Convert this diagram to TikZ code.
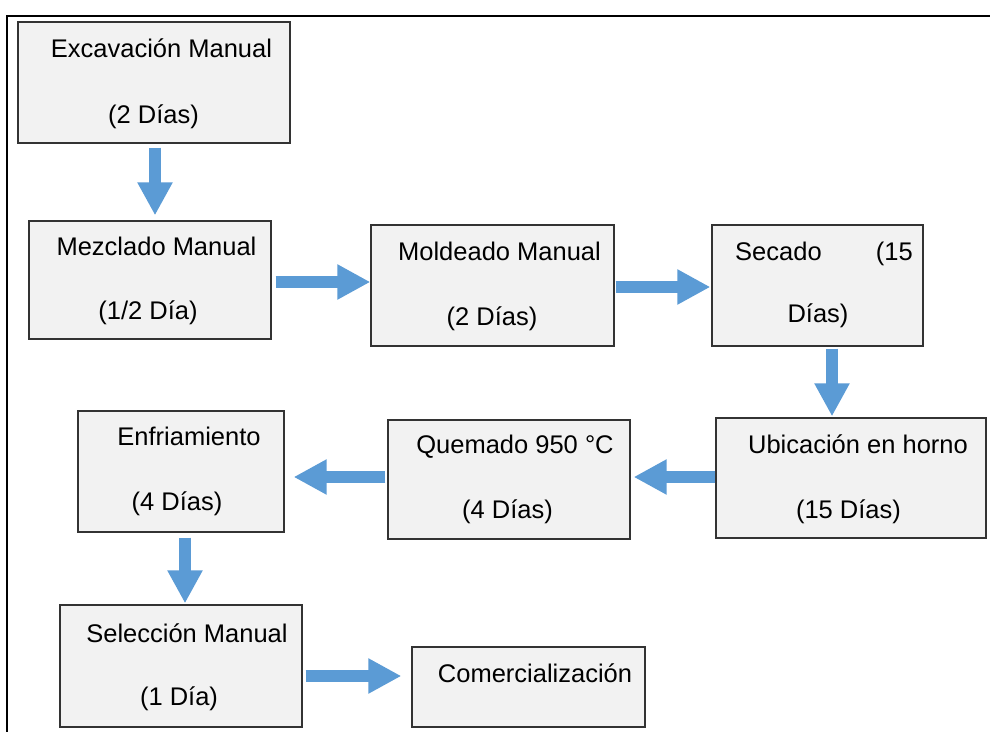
\documentclass[tikz,border=0pt]{standalone}
\usepackage{fontspec}
\setmainfont{Liberation Sans}
\usetikzlibrary{arrows.meta}
\definecolor{arrowblue}{HTML}{5B9BD5}
\definecolor{boxfill}{HTML}{F2F2F2}
\definecolor{boxline}{HTML}{333333}
\begin{document}
\begin{tikzpicture}[x=1pt,y=-1pt,
  procbox/.style={draw=boxline, fill=boxfill, line width=1.3pt, inner sep=0pt, rectangle},
  txt/.style={inner sep=0pt, anchor=base, font=\fontsize{25.5}{30}\selectfont},
  bigarrow/.style={draw=arrowblue, line width=12pt, -{Triangle[width=33pt,length=33pt]}}]
\useasboundingbox (0,0) rectangle (990,731);
\fill[white] (0,0) rectangle (990,731);
% outer frame
\draw[line width=2pt] (995,16) -- (7,16) -- (7,740);
% boxes
\node[procbox, minimum width=272pt, minimum height=121pt] (b1) at (154,82.5) {};
\node[procbox, minimum width=242pt, minimum height=118pt] (b2) at (150,280) {};
\node[procbox, minimum width=243pt, minimum height=121pt] (b3) at (492.5,285.5) {};
\node[procbox, minimum width=211pt, minimum height=121pt] (b4) at (817.5,285.5) {};
\node[procbox, minimum width=270pt, minimum height=120pt] (b5) at (851,478) {};
\node[procbox, minimum width=242pt, minimum height=119pt] (b6) at (509,479.5) {};
\node[procbox, minimum width=206pt, minimum height=121pt] (b7) at (181,471.5) {};
\node[procbox, minimum width=242pt, minimum height=122pt] (b8) at (181,666) {};
\node[procbox, minimum width=233pt, minimum height=80pt] (b9) at (528.5,687) {};
% texts
\node[txt] (t1a) at (161.5,57) {Excavación Manual};
\node[txt] (t1b) at (153.5,123) {(2 Días)};
\node[txt] (t2a) at (156.5,255) {Mezclado Manual};
\node[txt] (t2b) at (148,319) {(1/2 Día)};
\node[txt] (t3a) at (499.5,260) {Moldeado Manual};
\node[txt] (t3b) at (492,325) {(2 Días)};
\node[txt, anchor=base west] (t4a) at (735,260) {Secado};
\node[txt, anchor=base east] (t4b) at (913,260) {(15};
\node[txt] (t4c) at (818,322) {Días)};
\node[txt] (t5a) at (858,453) {Ubicación en horno};
\node[txt] (t5b) at (848.5,518) {(15 Días)};
\node[txt] (t6a) at (515,453) {Quemado 950 °C};
\node[txt] (t6b) at (507.5,518) {(4 Días)};
\node[txt] (t7a) at (189,445) {Enfriamiento};
\node[txt] (t7b) at (177,510) {(4 Días)};
\node[txt] (t8a) at (187,642) {Selección Manual};
\node[txt] (t8b) at (179,705) {(1 Día)};
\node[txt] (t9) at (535,682) {Comercialización};
% arrows
\draw[bigarrow, shorten <=4pt, shorten >=5pt] ([xshift=1pt]b1.south) -- ([xshift=1pt]b1.south |- b2.north);
\draw[bigarrow, shorten <=4pt] ([yshift=-2pt]b2.east) -- ([yshift=-2pt]b2.east -| b3.west);
\draw[bigarrow, shorten <=1pt, shorten >=1pt] ([yshift=-1.5pt]b3.east) -- ([yshift=-1.5pt]b3.east -| b4.west);
\draw[bigarrow, shorten <=2pt, shorten >=1pt] ([xshift=14.5pt]b4.south) -- ([xshift=14.5pt]b4.south |- b5.north);
\draw[bigarrow, shorten >=3pt] ([yshift=1pt]b5.west) -- ([yshift=1pt]b5.west -| b6.east);
\draw[bigarrow, shorten <=2pt, shorten >=9pt] ([yshift=2.5pt]b6.west) -- ([yshift=2.5pt]b6.west -| b7.east);
\draw[bigarrow, shorten <=5pt, shorten >=1pt] ([xshift=4pt]b7.south) -- ([xshift=4pt]b7.south |- b8.north);
\draw[bigarrow, shorten <=3pt, shorten >=10pt] ([yshift=-10pt]b8.east) -- ([yshift=-10pt]b8.east -| b9.west);
\end{tikzpicture}
\end{document}
